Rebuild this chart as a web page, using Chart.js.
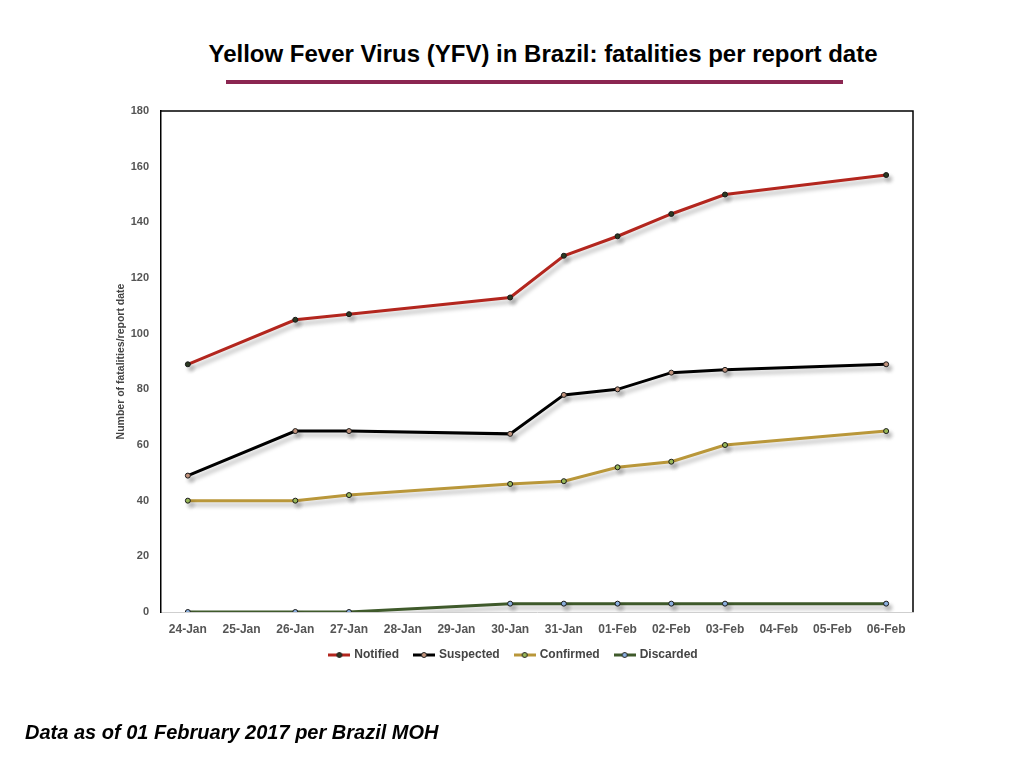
<!DOCTYPE html>
<html>
<head>
<meta charset="utf-8">
<script src="https://cdn.jsdelivr.net/npm/chart.js@4"></script>
<style>
  body { margin: 0; background: #fff; font-family: "Liberation Sans", Arial, sans-serif; }
  #wrap { position: absolute; left: 0; top: 0; width: 1024px; height: 768px; }
  #title { position: absolute; left: 0; width: 1086px; top: 40px; text-align: center; font-weight: bold; font-size: 24px; color: #000; }
  #rule { position: absolute; left: 226px; top: 80px; width: 617px; height: 4px; background: #8b2651; }
  #foot { position: absolute; left: 25px; top: 721px; font-weight: bold; font-style: italic; font-size: 20px; color: #000; }
</style>
</head>
<body>
<div id="title">Yellow Fever Virus (YFV) in Brazil: fatalities per report date</div>
<div id="rule"></div>
<div id="wrap"><canvas id="yfvChart"></canvas></div>
<div id="foot">Data as of 01 February 2017 per Brazil MOH</div>
<script>
// ================= DATA =================
const dates = ["24-Jan", "25-Jan", "26-Jan", "27-Jan", "28-Jan", "29-Jan", "30-Jan",
  "31-Jan", "01-Feb", "02-Feb", "03-Feb", "04-Feb", "05-Feb", "06-Feb"];
const notified  = [89, null, 105, 107, null, null, 113, 128, 135, 143, 150, null, null, 157];
const suspected = [49, null, 65, 65, null, null, 64, 78, 80, 86, 87, null, null, 89];
const confirmed = [40, null, 40, 42, null, null, 46, 47, 52, 54, 60, null, null, 65];
const discarded = [0, null, 0, 0, null, null, 3, 3, 3, 3, 3, null, null, 3];
const yTicks = [0, 20, 40, 60, 80, 100, 120, 140, 160, 180];

const series = [
  { label: "Notified",  data: notified,  line: "#b3261e", dot: "#2d3a22" },
  { label: "Suspected", data: suspected, line: "#000000", dot: "#c4957e" },
  { label: "Confirmed", data: confirmed, line: "#b9973a", dot: "#9bbb59" },
  { label: "Discarded", data: discarded, line: "#3f5a2b", dot: "#8db3e2" }
];

// legend marker: short line with a dot in the middle
function legendMark(s) {
  const c = document.createElement("canvas");
  c.width = 22; c.height = 10;
  const g = c.getContext("2d");
  g.strokeStyle = s.line; g.lineWidth = 3;
  g.beginPath(); g.moveTo(0, 5); g.lineTo(22, 5); g.stroke();
  g.fillStyle = s.dot; g.strokeStyle = "#222"; g.lineWidth = 1;
  g.beginPath(); g.arc(11, 5, 2.5, 0, Math.PI * 2); g.fill(); g.stroke();
  return c;
}

// soft shadow under lines + frame on top/right
const shadowPlugin = {
  id: "shadow",
  beforeDatasetsDraw(chart) {
    const ctx = chart.ctx;
    ctx.save();
    ctx.shadowColor = "rgba(0,0,0,0.28)";
    ctx.shadowBlur = 4;
    ctx.shadowOffsetX = 3;
    ctx.shadowOffsetY = 4;
  },
  afterDatasetsDraw(chart) {
    chart.ctx.restore();
  },
  afterDraw(chart) {
    const { ctx, chartArea: a } = chart;
    ctx.save();
    ctx.strokeStyle = "#000"; ctx.lineWidth = 1.5;
    ctx.beginPath();
    ctx.moveTo(a.left, a.top); ctx.lineTo(a.right, a.top); ctx.lineTo(a.right, a.bottom);
    ctx.stroke();
    ctx.restore();
  }
};

new Chart(document.getElementById("yfvChart"), {
  type: "line",
  data: {
    labels: dates,
    datasets: series.map(s => ({
      label: s.label,
      data: s.data,
      borderColor: s.line,
      backgroundColor: s.line,
      borderWidth: 3,
      pointRadius: 2.5,
      pointBackgroundColor: s.dot,
      pointBorderColor: "#1a1a1a",
      pointBorderWidth: 1,
      spanGaps: true,
      tension: 0
    }))
  },
  options: {
    responsive: true,
    maintainAspectRatio: false,
    animation: false,
    layout: { padding: { left: 115, right: 111, top: 111, bottom: 97 } },
    plugins: {
      legend: {
        position: "bottom",
        labels: {
          usePointStyle: true,
          pointStyleWidth: 18,
          padding: 16,
          color: "#444",
          font: { family: "Liberation Sans", size: 12, weight: "bold" },
          generateLabels(chart) {
            return series.map((s, i) => ({
              text: s.label,
              pointStyle: legendMark(s),
              fillStyle: s.line,
              strokeStyle: s.line,
              lineWidth: 0,
              fontColor: "#444",
              hidden: false,
              datasetIndex: i
            }));
          }
        }
      },
      title: { display: false },
      tooltip: { enabled: false }
    },
    scales: {
      x: {
        offset: true,
        grid: { display: false, drawTicks: false },
        border: { color: "#cfcfcf", width: 1 },
        ticks: { color: "#555", padding: 10, maxRotation: 0, autoSkip: false,
          font: { family: "Liberation Sans", size: 12, weight: "bold" } },
        afterFit(scale) { scale.height = 21; }
      },
      y: {
        min: 0, max: 180,
        afterBuildTicks(scale) { scale.ticks = yTicks.map(v => ({ value: v })); },
        grid: { display: false, drawTicks: false },
        border: { color: "#000", width: 1.5 },
        ticks: { color: "#555", padding: 12,
          font: { family: "Liberation Sans", size: 11, weight: "bold" } },
        title: { display: true, text: "Number of fatalities/report date", color: "#444",
          padding: { top: 0, bottom: 4 },
          font: { family: "Liberation Sans", size: 10.5, weight: "bold" } },
        afterFit(scale) { scale.width = 46; }
      }
    }
  },
  plugins: [shadowPlugin]
});
</script>
</body>
</html>
